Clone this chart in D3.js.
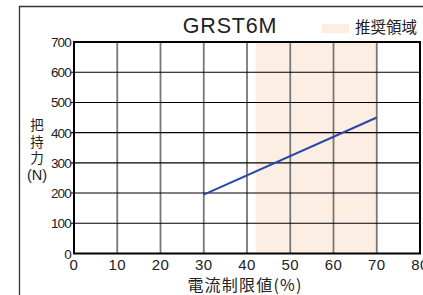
<!DOCTYPE html>
<html><head><meta charset="utf-8">
<script src="https://cdn.jsdelivr.net/npm/d3@7"></script>
<style>body{margin:0;background:#fff}svg{display:block}</style>
</head><body>
<svg id="c" width="423" height="295"></svg>
<script>
const title = "GRST6M";
const legendLabel = "推奨領域";
const xLabel = "電流制限値(%)";
const yLabelChars = ["把","持","力","(N)"];
const xTicks = [0,10,20,30,40,50,60,70,80];
const yTicks = [0,100,200,300,400,500,600,700];
const recommended = [42,70];
const seriesX = [30,70];
const seriesY = [195,450];

const svg = d3.select("#c");
const L=74,R=420,T=42,B=253.5;
const x = d3.scaleLinear().domain([0,80]).range([L,R]);
const y = d3.scaleLinear().domain([0,700]).range([B,T]);
const font = "'Liberation Sans', Arial, sans-serif";
const cjk = "'Noto Sans CJK JP', sans-serif";

// outer frame
svg.append("path").attr("d",`M19.5,295 V6.5 H423`).attr("fill","none").attr("stroke","#333").attr("stroke-width",1.3);

// recommended shading
svg.append("rect").attr("x",x(recommended[0])).attr("y",T).attr("width",x(recommended[1])-x(recommended[0])).attr("height",B-T).attr("fill","#fdeee4");

// vertical grid
svg.append("g").selectAll("line").data(xTicks.filter(d=>d>0&&d<80)).join("line")
  .attr("x1",d=>x(d)).attr("x2",d=>x(d)).attr("y1",T).attr("y2",B)
  .attr("stroke","#777").attr("stroke-width",1.8);
// horizontal grid (with small ticks left)
svg.append("g").selectAll("line").data(yTicks.filter(d=>d>0&&d<700)).join("line")
  .attr("x1",L-3).attr("x2",R).attr("y1",d=>y(d)).attr("y2",d=>y(d))
  .attr("stroke","#000").attr("stroke-width",1.1);

// border
svg.append("rect").attr("x",L).attr("y",T).attr("width",R-L).attr("height",B-T).attr("fill","none").attr("stroke","#000").attr("stroke-width",2);

// series line
svg.append("path").datum(seriesX.map((d,i)=>[d,seriesY[i]]))
  .attr("d",d3.line().x(d=>x(d[0])).y(d=>y(d[1])))
  .attr("fill","none").attr("stroke","#2847a8").attr("stroke-width",2);

// y tick labels
svg.append("g").selectAll("text").data(yTicks).join("text")
  .attr("x",L-3).attr("y",d=>y(d)+5).attr("text-anchor","end")
  .attr("font-family",font).attr("font-size",13.5).attr("letter-spacing","-0.8")
  .attr("fill","#222").text(d=>d);
// x tick labels
svg.append("g").selectAll("text").data(xTicks).join("text")
  .attr("x",d=>x(d)).attr("y",270).attr("text-anchor","middle")
  .attr("font-family",font).attr("font-size",15).attr("letter-spacing","0.5")
  .attr("fill","#222").text(d=>d);

// title
svg.append("text").attr("x",230).attr("y",33).attr("text-anchor","middle")
  .attr("font-family",font).attr("font-size",21.5).attr("letter-spacing","0.8").attr("fill","#222").text(title);

// legend
svg.append("rect").attr("x",322).attr("y",24).attr("width",27).attr("height",9).attr("fill","#fdeee4");
svg.append("text").attr("x",355).attr("y",32.5).attr("font-family",cjk).attr("font-size",15.5).attr("fill","#222").text(legendLabel);

// x label
svg.append("text").attr("x",245).attr("y",291).attr("text-anchor","middle")
  .attr("font-family",cjk).attr("font-size",16).attr("letter-spacing","1.2").attr("fill","#222").text(xLabel);

// y label stacked
svg.append("g").selectAll("text").data(yLabelChars).join("text")
  .attr("x",37).attr("y",(d,i)=>130+i*16.5).attr("text-anchor","middle")
  .attr("font-family",(d,i)=>i<3?cjk:font).attr("font-size",(d,i)=>i<3?13.5:14.5)
  .attr("fill","#222").text(d=>d);
</script>
</body></html>
